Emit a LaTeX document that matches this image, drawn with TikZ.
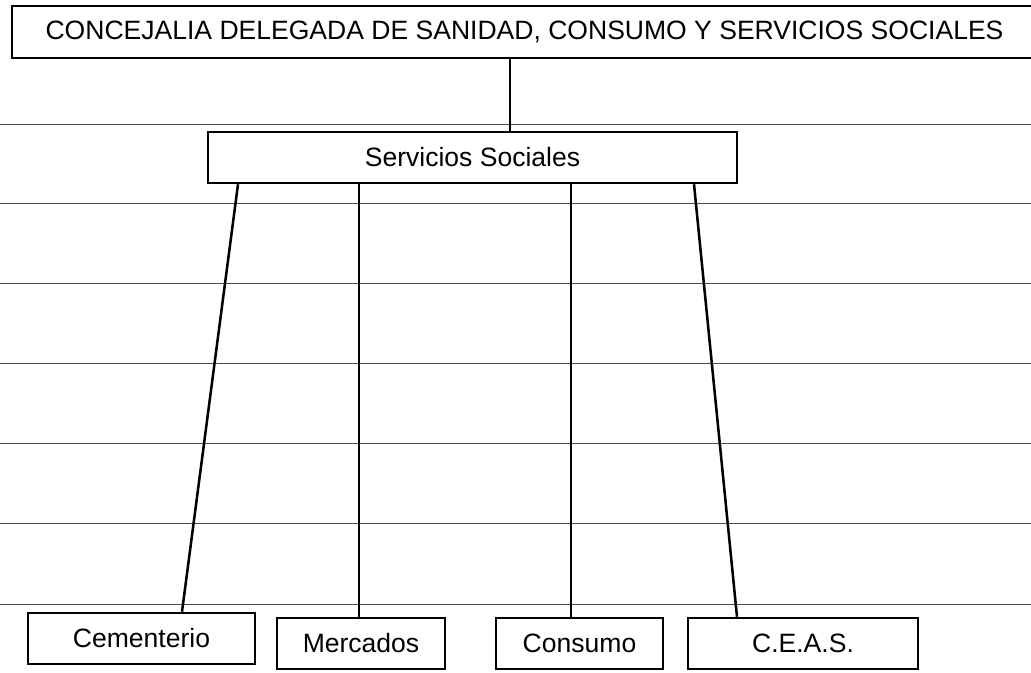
\documentclass[tikz,border=0pt]{standalone}
\usepackage{fontspec}
\setmainfont{Liberation Sans}
\begin{document}
\begin{tikzpicture}[x=0.75pt,y=-0.75pt,
  box/.style={draw=black,line width=1.9pt,fill=white,rectangle,inner sep=0pt,
    font=\fontsize{19.9}{23}\selectfont},
  link/.style={draw=black,line width=1.9pt},
  rule/.style={draw=black!70,line width=0.7pt,dash pattern=on 1.2pt off 0.3pt}]
\useasboundingbox (0,0) rectangle (1031,672);
% ruled background lines
\foreach \yy in {124,203,283,363,443,523,604}
  \draw[rule] (0,\yy) -- (1031,\yy);
% boxes
\node[box,minimum width=1025*0.75pt,minimum height=52*0.75pt] (top) at (524.5,32) {CONCEJALIA DELEGADA DE SANIDAD, CONSUMO Y SERVICIOS SOCIALES};
\node[box,minimum width=529*0.75pt,minimum height=51*0.75pt] (ss) at (472.5,157.5) {Servicios Sociales};
\node[box,minimum width=227*0.75pt,minimum height=51*0.75pt] (cem) at (141.5,638.5) {Cementerio};
\node[box,minimum width=168*0.75pt,minimum height=51*0.75pt] (mer) at (361,643.5) {Mercados};
\node[box,minimum width=167*0.75pt,minimum height=51*0.75pt] (con) at (579.5,643.5) {Consumo};
\node[box,minimum width=230*0.75pt,minimum height=51*0.75pt] (ceas) at (803,643.5) {C.E.A.S.};
% connectors
\draw[link] (top.south -| 510,0) -- (ss.north -| 510,0);
\draw[link] (ss.south -| 238,0) -- (cem.north -| 182,0);
\draw[link] (ss.south -| 359,0) -- (mer.north -| 359,0);
\draw[link] (ss.south -| 571,0) -- (con.north -| 571,0);
\draw[link] (ss.south -| 694,0) -- (ceas.north -| 737,0);
\end{tikzpicture}
\end{document}
